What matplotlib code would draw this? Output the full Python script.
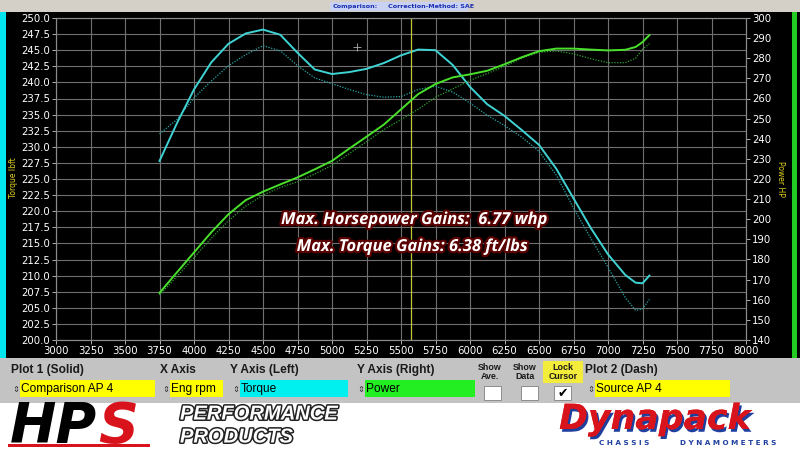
import matplotlib
matplotlib.use("Agg")
import matplotlib.pyplot as plt
import matplotlib.patheffects as pe
from matplotlib.patches import Rectangle

# engine speed samples (rpm)
rpm = [3750, 3875, 4000, 4125, 4250, 4375, 4500, 4625, 4750, 4875, 5000,
       5125, 5250, 5375, 5500, 5625, 5750, 5875, 6000, 6125, 6250, 6375,
       6500, 6625, 6750, 6875, 7000, 7125, 7200, 7250, 7300]

# Plot 1 (solid) - Comparison AP 4
torque_solid = [227.8, 233.6, 238.9, 243.1, 246.0, 247.6, 248.2, 247.4, 244.6, 242.0, 241.3,
                241.6, 242.1, 243.0, 244.2, 245.1, 245.0, 242.7, 239.3, 236.6, 234.8, 232.6,
                230.3, 226.6, 222.0, 217.4, 213.3, 210.1, 208.9, 208.8, 210.0]
power_solid = [163.4, 173.5, 183.5, 193.5, 202.5, 209.5, 213.7, 217.3, 220.8, 224.8, 229.0,
               235.1, 241.0, 247.0, 254.6, 262.2, 267.2, 270.5, 272.0, 273.8, 277.0, 280.5,
               283.5, 284.8, 284.8, 284.3, 283.9, 284.2, 285.6, 288.0, 291.5]

# Plot 2 (dash) - Source AP 4
torque_dash = [232.0, 234.2, 237.6, 240.2, 242.6, 244.3, 245.7, 244.9, 242.6, 240.7, 239.8,
               238.9, 238.1, 237.7, 237.8, 238.9, 239.4, 238.5, 236.8, 234.9, 233.3, 231.5,
               229.3, 225.6, 220.5, 215.8, 211.3, 206.6, 204.6, 204.8, 206.3]
power_dash = [162.3, 171.5, 181.0, 190.5, 199.3, 206.5, 212.0, 215.8, 218.6, 222.5, 226.8,
              232.6, 238.5, 244.5, 249.5, 254.7, 260.6, 264.8, 269.0, 272.4, 276.0, 280.0,
              283.0, 283.6, 282.2, 279.8, 277.8, 277.8, 280.0, 284.5, 287.2]

x_ticks = list(range(3000, 8001, 250))
left_ticks = [200 + 2.5 * i for i in range(21)]
right_ticks = list(range(140, 301, 10))
cursor_rpm = 5575

W, H = 800, 457
fig = plt.figure(figsize=(8, 4.57), dpi=100, facecolor="white")


def fx(x):
    return x / W


def fy(y):
    return 1 - y / H


def box(x0, y0, x1, y1, color, ec="none", lw=0):
    fig.add_artist(Rectangle((fx(x0), fy(y1)), fx(x1 - x0), (y1 - y0) / H,
                             transform=fig.transFigure, facecolor=color,
                             edgecolor=ec, linewidth=lw, zorder=0))


def txt(x, y, s, **kw):
    return fig.text(fx(x), fy(y), s, **kw)


# window background pieces
box(0, 0, 800, 12, "#d4d0c8")
box(330, 2, 468, 11, "#c9d2f2")
txt(333, 6.5, "Comparison:", fontsize=4.6, color="#1a2fb0", weight="bold", va="center")
txt(388, 6.5, "Correction-Method: SAE", fontsize=4.6, color="#1a2fb0", weight="bold", va="center")
box(0, 12, 800, 358, "black")
box(0, 12, 6, 358, "#00e5ee")
box(792, 12, 797, 358, "#22cc22")
box(0, 358, 800, 403, "#c3c3c3")

# chart
ax = fig.add_axes([fx(56), fy(340), fx(690), 322 / H])
ax.set_facecolor("black")
ax.set_xlim(3000, 8000)
ax.set_ylim(200, 250)
ax.set_xticks(x_ticks)
ax.set_yticks(left_ticks)
ax.set_yticklabels(["%.1f" % v for v in left_ticks])
ax.grid(True, color="#707070", linewidth=0.8)
ax.tick_params(colors="#c8c8c8", labelcolor="white", labelsize=7.3, length=3, width=0.6, pad=1.5)
for s in ax.spines.values():
    s.set_color("#8a8a8a")
    s.set_linewidth(0.8)

ax.plot(rpm, torque_dash, color="#2aa5a5", lw=0.9, ls=(0, (1, 1.2)))
ax.plot(rpm, torque_solid, color="#3fd3d3", lw=1.4, solid_joinstyle="round")
ax.axvline(cursor_rpm, color="#c4c43a", lw=0.9)
ax.plot([5180], [245.5], marker="+", color="#9a9a9a", ms=6, mew=0.7)

ax2 = ax.twinx()
ax2.set_ylim(140, 300)
ax2.set_yticks(right_ticks)
ax2.tick_params(colors="#c8c8c8", labelcolor="white", labelsize=7.3, length=3, width=0.6, pad=1.5)
for s in ax2.spines.values():
    s.set_color("#8a8a8a")
    s.set_linewidth(0.8)
ax2.plot(rpm, power_dash, color="#2f9f2f", lw=0.9, ls=(0, (1, 1.2)))
ax2.plot(rpm, power_solid, color="#48e02a", lw=1.4, solid_joinstyle="round")

txt(14, 178, "Torque lbft", rotation=90, color="#e0d020", fontsize=5.5, ha="center", va="center")
txt(780, 179, "Power HP", rotation=270, color="#e0d020", fontsize=5.5, ha="center", va="center")

glow = [pe.withStroke(linewidth=3.2, foreground="#5a0000")]
txt(414, 219, "Max. Horsepower Gains:  6.77 whp", fontsize=11.9, color="white", weight="bold",
    style="italic", family="Open Sans", ha="center", va="center", path_effects=glow)
txt(412, 246, "Max. Torque Gains: 6.38 ft/lbs", fontsize=11.9, color="white", weight="bold",
    style="italic", family="Open Sans", ha="center", va="center", path_effects=glow)

# control panel
lab = dict(fontsize=8.6, weight="bold", color="#1a1a1a", family="Liberation Sans", va="center")
txt(11, 370, "Plot 1 (Solid)", **lab)
txt(160, 370, "X Axis", **lab)
txt(230, 370, "Y Axis (Left)", **lab)
txt(357, 370, "Y Axis (Right)", **lab)
txt(585, 370, "Plot 2 (Dash)", **lab)
small = dict(fontsize=6.4, weight="bold", color="#1a1a1a", family="Liberation Sans",
             va="center", ha="center", linespacing=0.95)
box(543, 361, 583, 383, "#f4ec3a")
txt(490, 372, "Show\nAve.", **small)
txt(525, 372, "Show\nData", **small)
txt(563, 372, "Lock\nCursor", **small)
for x0 in (484, 521, 554):
    box(x0, 386, x0 + 17, 400, "white", ec="#808080", lw=0.6)
txt(562.5, 393, "\u2714", fontsize=9, color="black", ha="center", va="center", family="DejaVu Sans")

field = dict(fontsize=8.6, color="black", family="Liberation Sans", va="center")
for x0, x1, col, s in [(20, 155, "#ffff00", "Comparison AP 4"),
                       (170, 223, "#ffff00", "Eng rpm"),
                       (240, 348, "#00f0f0", "Torque"),
                       (365, 475, "#22ee22", "Power"),
                       (595, 730, "#ffff00", "Source AP 4")]:
    box(x0, 380, x1, 397, col)
    t = txt(x0 + 1, 389, s, **field)
    t.set_clip_box(fig.transFigure.transform_bbox(
        matplotlib.transforms.Bbox([[fx(x0), fy(397)], [fx(x1), fy(380)]])))
    t.set_clip_on(True)
    txt(x0 - 4, 389, "\u21d5", fontsize=6, color="#333333", ha="center", va="center",
        family="DejaVu Sans")

# logos
txt(10, 427, "HP", fontsize=40, weight="bold", style="italic", color="black",
    family="DejaVu Sans", va="center")
txt(98, 427, "S", fontsize=40, weight="bold", style="italic", color="#d8131b",
    family="DejaVu Sans", va="center")
box(8, 444, 150, 447, "#d8131b")
out = [pe.withStroke(linewidth=2.2, foreground="#222222")]
txt(180, 414, "PERFORMANCE", fontsize=14.5, weight="bold", style="italic", color="white",
    family="Liberation Sans", va="center", path_effects=out)
txt(180, 437, "PRODUCTS", fontsize=14.5, weight="bold", style="italic", color="white",
    family="Liberation Sans", va="center", path_effects=out)

shadow = [pe.withSimplePatchShadow(offset=(1.5, -2), shadow_rgbFace="#1f3f9f", alpha=1),
          pe.Normal()]
txt(655, 429, "Dynapack", fontsize=25, weight="bold", style="italic", color="#d8131b",
    family="DejaVu Sans", ha="center", va="baseline", path_effects=shadow)
txt(624, 443, "C H A S S I S", fontsize=5.2, weight="bold", color="#1f3f9f", ha="center", va="center")
txt(728, 443, "D Y N A M O M E T E R S", fontsize=5.2, weight="bold", color="#1f3f9f",
    ha="center", va="center")

fig.savefig("out.png", dpi=100, facecolor="white")
